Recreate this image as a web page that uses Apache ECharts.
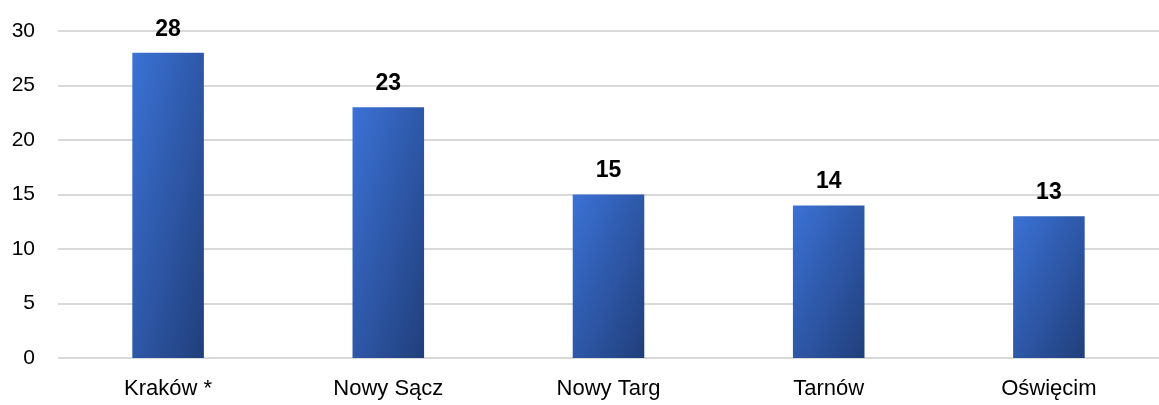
<!DOCTYPE html>
<html><head><meta charset="utf-8">
<script src="https://cdn.jsdelivr.net/npm/echarts@6/dist/echarts.min.js"></script>
<style>html,body{margin:0;padding:0;background:#fff}#c{width:1159px;height:405px}</style>
</head><body><div id="c"></div>
<script>
const categories = ['Kraków *', 'Nowy Sącz', 'Nowy Targ', 'Tarnów', 'Oświęcim'];
const values = [28, 23, 15, 14, 13];
const yTicks = [0, 5, 10, 15, 20, 25, 30];

const FONT = '"Liberation Sans Narrow", "Arial Narrow", "Liberation Sans", Arial, sans-serif';
const BAR_FRAC = 0.325;
const chart = echarts.init(document.getElementById('c'), null, {renderer: 'canvas'});
const option = {
  animation: false,
  grid: {left: 58, right: 0, top: 31, bottom: 47, containLabel: false},
  xAxis: {
    type: 'category', data: categories,
    axisLine: {show: false}, axisTick: {show: false},
    axisLabel: {fontFamily: FONT, fontSize: 22, color: '#000', margin: 20}
  },
  yAxis: {
    type: 'value', min: yTicks[0], max: yTicks[yTicks.length - 1], interval: 5,
    axisLine: {show: false}, axisTick: {show: false},
    axisLabel: {fontFamily: FONT, fontSize: 21, color: '#000', margin: 23},
    splitLine: {lineStyle: {color: '#d9d9d9', width: 2}}
  },
  series: [{
    type: 'bar', data: values, barWidth: (BAR_FRAC * 100) + '%',
    itemStyle: {color: '#2e58a8'},
    label: {show: true, position: 'top', distance: 12, fontFamily: FONT,
      fontSize: 23, fontWeight: 'bold', color: '#000'}
  }]
};
chart.setOption(option);
// Office-style "scaled" diagonal gradient: isolines along the bar's anti-diagonal
const x0 = chart.convertToPixel({xAxisIndex: 0}, 0);
const x1 = chart.convertToPixel({xAxisIndex: 0}, 1);
const w = Math.abs(x1 - x0) * BAR_FRAC;
const y0 = chart.convertToPixel({yAxisIndex: 0}, 0);
const data = values.map(v => {
  const h = Math.abs(y0 - chart.convertToPixel({yAxisIndex: 0}, v));
  const s = h * h + w * w;
  return {value: v, itemStyle: {color: new echarts.graphic.LinearGradient(0, 0, 2 * h * h / s, 2 * w * w / s, [
    {offset: 0, color: '#3b72d6'}, {offset: 1, color: '#213e7a'}])}};
});
chart.setOption({series: [{data: data}]});
</script></body></html>
